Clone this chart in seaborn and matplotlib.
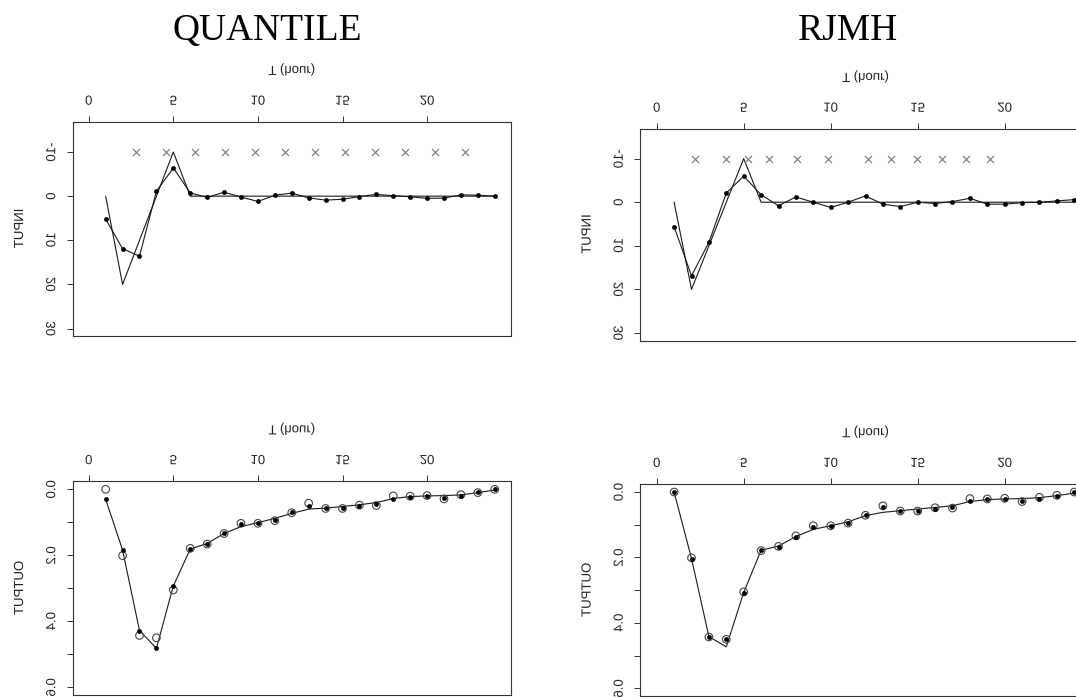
import numpy as np
import pandas as pd
import matplotlib
matplotlib.use("Agg")
import matplotlib.pyplot as plt
import seaborn as sns
from matplotlib.patheffects import AbstractPathEffect
from matplotlib.transforms import Affine2D

# ---------------- data ----------------
t = [1, 2, 3, 4, 5, 6, 7, 8, 9, 10, 11, 12, 13, 14, 15, 16, 17, 18, 19, 20, 21, 22, 23, 24]

true_input = [0, 20, 10, 0, -10, 0, 0, 0, 0, 0, 0, 0, 0, 0, 0, 0, 0, 0, 0, 0, 0, 0, 0, 0]

quantile_input = [5.2, 11.9, 13.6, -1.1, -6.4, -0.75, 0.3, -0.9, 0.2, 1.2, -0.2, -0.7,
                  0.4, 0.9, 0.7, 0.1, -0.4, -0.1, 0.15, 0.5, 0.45, -0.3, -0.2, 0.0]
rjmh_input = [5.6, 16.9, 9.2, -2.1, -6.0, -1.7, 0.8, -1.2, 0.0, 1.2, 0.0, -1.45,
              0.45, 1.0, 0.0, 0.3, -0.15, -0.9, 0.45, 0.45, 0.1, 0.0, -0.3, -0.6]

quantile_knots = [2.77, 4.54, 6.31, 8.08, 9.85, 11.62, 13.38, 15.15, 16.92, 18.69, 20.46, 22.23]
quantile_knot_level = [-10, -10, -10, -10, -10, -10, -10, -10, -10, -10, -10, -10]
rjmh_knots = [2.20, 4.00, 5.23, 6.48, 8.05, 9.87, 12.13, 13.44, 14.95, 16.41, 17.76, 19.15]
rjmh_knot_level = [-10, -10, -10, -10, -10, -10, -10, -10, -10, -10, -10, -10]

observed_output = [0.0, 0.201, 0.443, 0.450, 0.305, 0.179, 0.166, 0.134, 0.103, 0.103, 0.095, 0.071,
                   0.042, 0.058, 0.058, 0.048, 0.049, 0.020, 0.021, 0.019, 0.029, 0.016, 0.010, 0.0]

quantile_fit = [0.030, 0.184, 0.428, 0.482, 0.293, 0.182, 0.165, 0.133, 0.104, 0.103, 0.094, 0.070,
                0.050, 0.056, 0.056, 0.052, 0.043, 0.028, 0.022, 0.021, 0.025, 0.019, 0.009, 0.0]
quantile_curve = [0.030, 0.184, 0.428, 0.482, 0.293, 0.181, 0.164, 0.134, 0.113, 0.101, 0.088, 0.073,
                  0.060, 0.057, 0.052, 0.047, 0.040, 0.028, 0.022, 0.020, 0.019, 0.017, 0.010, 0.002]

rjmh_fit = [0.0, 0.206, 0.444, 0.450, 0.308, 0.178, 0.167, 0.137, 0.108, 0.104, 0.096, 0.071,
            0.047, 0.058, 0.058, 0.051, 0.047, 0.027, 0.022, 0.022, 0.026, 0.022, 0.011, 0.0]
rjmh_curve = [0.0, 0.203, 0.442, 0.473, 0.307, 0.178, 0.165, 0.136, 0.114, 0.103, 0.091, 0.072,
              0.062, 0.057, 0.052, 0.047, 0.042, 0.029, 0.023, 0.021, 0.020, 0.017, 0.011, 0.003]

x_ticks = [0, 5, 10, 15, 20]
x_ticklabels = ["0", "5", "10", "15", "20"]
in_ticks = [-10, 0, 10, 20, 30]
in_ticklabels = ["-10", "0", "10", "20", "30"]
out_ticks = [0.0, 0.1, 0.2, 0.3, 0.4, 0.5, 0.6]
out_ticklabels = ["0.0", "", "0.2", "", "0.4", "", "0.6"]
titles = ["QUANTILE", "RJMH"]


# ------------- text flipped upside-down (mirror image, as in reference) -------------
class VFlip(AbstractPathEffect):
    def draw_path(self, renderer, gc, tpath, affine, rgbFace=None):
        bb = tpath.get_extents(affine)
        c = 0.5 * (bb.y0 + bb.y1)
        flip = Affine2D().translate(0, -c).scale(1, -1).translate(0, c)
        renderer.draw_path(gc, tpath, affine + flip, rgbFace)


sns.set_theme(style="white")
plt.rcParams["font.family"] = ["Liberation Sans", "DejaVu Sans"]

TXT = "#222222"
BOX = "#333333"
LINE = "#1a1a1a"
FS = 9.5

W, H = 1076, 700
fig = plt.figure(figsize=(W / 100, H / 100), dpi=100)


def add_ax(left, right, top, bottom):
    return fig.add_axes([left / W, 1 - bottom / H, (right - left) / W, (bottom - top) / H])


ax_tl = add_ax(72.5, 511, 122, 336.5)
ax_tr = add_ax(640, 1091, 129, 340.8)
ax_bl = add_ax(72.5, 511, 481.4, 695.2)
ax_br = add_ax(640, 1091, 484.2, 696.2)


def style(ax, ylim, yticks, ylabels, ylabel):
    ax.set_xlim(-0.96, 24.96)
    ax.set_ylim(ylim)
    ax.xaxis.tick_top()
    ax.xaxis.set_label_position("top")
    pe = [VFlip()]
    ax.set_xticks(x_ticks, labels=x_ticklabels, fontsize=FS, color=TXT, path_effects=pe)
    ax.set_yticks(yticks, labels=ylabels, rotation=90, va="center", fontsize=FS,
                  color=TXT, path_effects=pe)
    ax.tick_params(axis="both", which="major", direction="out", length=4.3, width=0.7,
                   color=BOX, pad=6.0)
    ax.tick_params(top=True, bottom=False, left=True, right=False,
                   labeltop=True, labelbottom=False, labelleft=True)
    for s in ax.spines.values():
        s.set_visible(True)
        s.set_color(BOX)
        s.set_linewidth(0.8)
    ax.set_xlabel("T (hour)", fontsize=FS, color=TXT, labelpad=16.5, path_effects=pe)
    ax.set_ylabel(ylabel, fontsize=FS, color=TXT, labelpad=14.5, path_effects=pe)
    ax.grid(False)


def input_panel(ax, est, knots, knot_level):
    d_true = pd.DataFrame({"t": t, "v": true_input})
    d_est = pd.DataFrame({"t": t, "v": est})
    d_knot = pd.DataFrame({"t": knots, "v": knot_level})
    sns.lineplot(data=d_true, x="t", y="v", ax=ax, color=LINE, lw=0.8,
                 estimator=None, sort=False, legend=False)
    sns.lineplot(data=d_est, x="t", y="v", ax=ax, color=LINE, lw=0.8,
                 estimator=None, sort=False, legend=False)
    sns.scatterplot(data=d_est, x="t", y="v", ax=ax, color="black", s=10,
                    edgecolor="black", linewidth=0.3, legend=False, zorder=3)
    sns.scatterplot(data=d_knot, x="t", y="v", ax=ax, marker="x", s=26,
                    color="#777777", linewidth=0.8, legend=False, zorder=3)
    style(ax, (31.8, -16.8), in_ticks, in_ticklabels, "INPUT")


def output_panel(ax, curve, fit):
    d_curve = pd.DataFrame({"t": t, "v": curve})
    d_fit = pd.DataFrame({"t": t, "v": fit})
    d_obs = pd.DataFrame({"t": t, "v": observed_output})
    sns.lineplot(data=d_curve, x="t", y="v", ax=ax, color=LINE, lw=0.8,
                 estimator=None, sort=False, legend=False)
    sns.scatterplot(data=d_obs, x="t", y="v", ax=ax, marker="o", s=30,
                    facecolors="none", edgecolor="#444444", linewidth=0.8,
                    legend=False, zorder=3)
    sns.scatterplot(data=d_fit, x="t", y="v", ax=ax, color="black", s=10,
                    edgecolor="black", linewidth=0.3, legend=False, zorder=4)
    style(ax, (0.624, -0.024), out_ticks, out_ticklabels, "OUTPUT")


input_panel(ax_tl, quantile_input, quantile_knots, quantile_knot_level)
input_panel(ax_tr, rjmh_input, rjmh_knots, rjmh_knot_level)
output_panel(ax_bl, quantile_curve, quantile_fit)
output_panel(ax_br, rjmh_curve, rjmh_fit)

fig.text(267.7 / W, 1 - 40 / H, titles[0], family="Liberation Serif", fontsize=27,
         ha="center", va="baseline", color="black")
fig.text(848 / W, 1 - 40 / H, titles[1], family="Liberation Serif", fontsize=27,
         ha="center", va="baseline", color="black")

fig.savefig("out.png", dpi=100, facecolor="white")
